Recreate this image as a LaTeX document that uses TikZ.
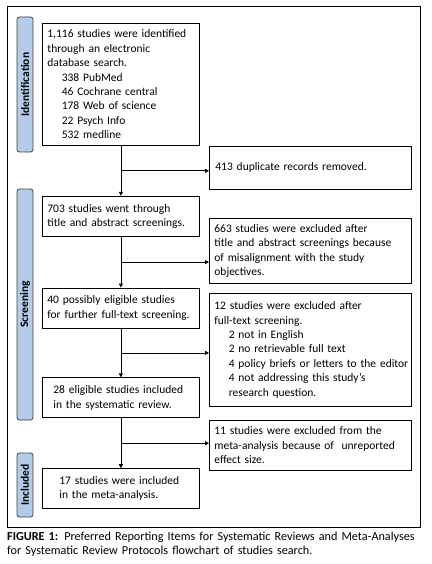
\documentclass[tikz,border=0pt]{standalone}
\usepackage{fontspec}
\setmainfont{Carlito}
\usetikzlibrary{positioning,arrows.meta,calc}
\definecolor{stageblue}{HTML}{B4CCE8}
\newcommand{\boxfont}{\fontsize{11.5}{14.4}\selectfont}
\newcommand{\ind}{\hspace*{1.25em}}
\tikzset{main box/.style={draw,line width=0.8pt,text width=147pt,inner xsep=5pt,minimum height=40pt,align=left,font=\boxfont},
         excl box/.style={draw,line width=0.8pt,text width=192pt,inner xsep=5pt,align=left,anchor=north west,font=\boxfont},
         stage/.style={draw=black!75,fill=stageblue,line width=0.8pt,rounded corners=2.5pt,rotate=90,minimum height=16pt,inner sep=0pt,font=\bfseries\fontsize{11.5}{12}\selectfont},
         flow/.style={line width=0.8pt,-{Triangle[length=4pt,width=4pt]}}
            }

\begin{document}
\begin{tikzpicture}[x=1pt,y=-1pt]
    \useasboundingbox (0,0) rectangle (431,564);
    \draw[line width=0.8pt] (7,6) rectangle (420,527);

    % stages
    \node[stage,minimum width=135pt] (identlbl) at (25,84.5) {Identification};
    \node[stage,minimum width=231pt] (screenlbl) at (25,304.5) {Screening};
    \node[stage,minimum width=64pt] (incllbl) at (25,485) {Included};

    % main column
    \node[main box,anchor=north west,minimum height=122pt] (ident) at (42,23)
        {1,116 studies were identified\\through an electronic\\database search.\\
         \ind 338 PubMed\\\ind 46 Cochrane central\\\ind 178 Web of science\\
         \ind 22 Psych Info\\\ind 532 medline};
    \node[main box] (titleabs) [below=50pt of ident] {703 studies went through\\title and abstract screenings.};
    \node[main box] (fulltext) [below=51pt of titleabs] {40 possibly eligible studies\\for further full-text screening.};
    \node[main box] (review) [below=49pt of fulltext] {\hspace*{6pt}28 eligible studies included\\\hspace*{6pt}in the systematic review.};
    \node[main box] (meta) [below=50pt of review] {\hspace*{12pt}17 studies were included\\\hspace*{12pt}in the meta-analysis.};

    % exclusions
    \node[excl box,minimum height=43pt] (dupl) at (209,146) {\hspace*{1pt}413 duplicate records removed.};
    \node[excl box,minimum height=65pt] (misalign) at (209,218)
        {663 studies were excluded after\\title and abstract screenings because\\of misalignment with the study\\objectives.};
    \node[excl box,minimum height=113pt] (notfit) at (209,293)
        {12 studies were excluded after\\full-text screening.\\
         \ind 2 not in English\\\ind 2 no retrievable full text\\
         \mbox{\ind 4 policy briefs or letters to the editor}\\
         \ind 4 not addressing this study’s\\\ind research question.};
    \node[excl box,minimum height=50pt] (noeffect) at (209,420)
        {11 studies were excluded from the\\meta-analysis because of \ unreported\\effect size.};

    % connectors
    \coordinate (m1) at ($(ident.south)!.5!(titleabs.north)$);
    \coordinate (m2) at ($(titleabs.south)!.5!(fulltext.north)$);
    \coordinate (m3) at ($(fulltext.south)!.5!(review.north)$);
    \coordinate (m4) at ($(review.south)!.5!(meta.north)$);
    \draw[flow] (ident) -- (titleabs);
    \draw[flow] (titleabs) -- (fulltext);
    \draw[flow] (fulltext) -- (review);
    \draw[flow] (review) -- (meta);
    \draw[flow] (m1) -- (m1 -| dupl.west);
    \draw[flow] (m2) -- (m2 -| misalign.west);
    \draw[flow] (m3) -- (m3 -| notfit.west);
    \draw[flow] (m4) -- (m4 -| noeffect.west);

    % caption
    \node[anchor=north west,text width=424pt,align=left,inner sep=0pt,font=\fontsize{12.2}{13.5}\selectfont] (caption) at (7,532)
        {\textbf{FIGURE 1:} Preferred Reporting Items for Systematic Reviews and Meta-Analyses\\for Systematic Review Protocols flowchart of studies search.};
\end{tikzpicture}
\end{document}
